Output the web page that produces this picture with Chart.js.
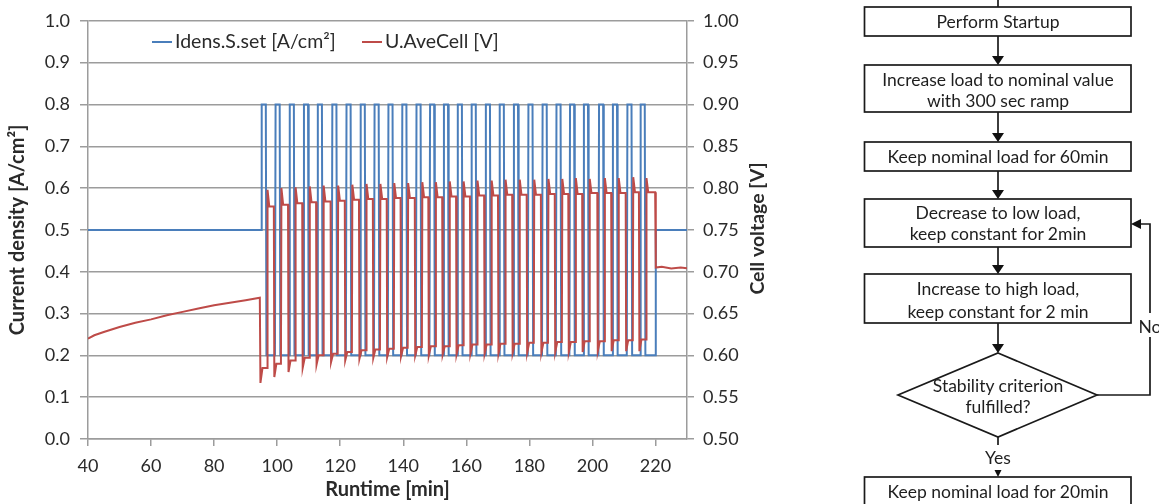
<!DOCTYPE html>
<html><head><meta charset="utf-8">
<script src="https://cdn.jsdelivr.net/npm/chart.js@4/dist/chart.umd.min.js"></script>
<style>
html,body{margin:0;padding:0;background:#fff;width:1159px;height:504px;overflow:hidden;}
#wrap{position:relative;width:1159px;height:504px;}
#c{position:absolute;left:0;top:0;}
#flow{position:absolute;left:0;top:0;font-family:Lato,"Open Sans",sans-serif;font-size:17.5px;fill:#1e1e1e;}
</style></head><body>
<div id="wrap">
<canvas id="c" width="790" height="504"></canvas>
<svg id="flow" width="1159" height="504" xmlns="http://www.w3.org/2000/svg">
  <g stroke="#1a1a1a" stroke-width="1.7" fill="#fff">
    <rect x="864.5" y="7" width="266.5" height="29"/>
    <rect x="864.5" y="65" width="266.5" height="47"/>
    <rect x="864.5" y="142" width="266.5" height="29"/>
    <rect x="864.5" y="199" width="266.5" height="48"/>
    <rect x="864.5" y="274" width="266.5" height="49"/>
    <polygon points="998,353 1097,395 998,437 898,395"/>
    <rect x="864.5" y="477" width="266.5" height="40"/>
  </g>
  <g stroke="#1a1a1a" stroke-width="1.7" fill="none">
    <line x1="998" y1="0" x2="998" y2="7"/>
    <line x1="998" y1="36" x2="998" y2="57"/>
    <line x1="998" y1="112" x2="998" y2="134"/>
    <line x1="998" y1="171" x2="998" y2="191"/>
    <line x1="998" y1="247" x2="998" y2="266"/>
    <line x1="998" y1="323" x2="998" y2="345"/>
    <line x1="998" y1="437" x2="998" y2="445"/>
    <polyline points="1097,395 1150,395 1150,337"/>
    <polyline points="1150,313 1150,224 1140,224"/>
  </g>
  <g fill="#111" stroke="none">
    <polygon points="992,56 1004,56 998,65"/>
    <polygon points="992,133 1004,133 998,142"/>
    <polygon points="992,190 1004,190 998,199"/>
    <polygon points="992,265 1004,265 998,274"/>
    <polygon points="992,344 1004,344 998,353"/>
    <polygon points="994.5,470 1001.5,470 998,477"/>
    <polygon points="1131,224 1141,219 1141,229"/>
  </g>
  <g text-anchor="middle" dominant-baseline="central">
    <text x="998" y="21.5">Perform Startup</text>
    <text x="998" y="79">Increase load to nominal value</text>
    <text x="998" y="100">with 300 sec ramp</text>
    <text x="998" y="156.5">Keep nominal load for 60min</text>
    <text x="998" y="212">Decrease to low load,</text>
    <text x="998" y="233">keep constant for 2min</text>
    <text x="998" y="288">Increase to high load,</text>
    <text x="998" y="311">keep constant for 2 min</text>
    <text x="998" y="385">Stability criterion</text>
    <text x="998" y="406">fulfilled?</text>
    <text x="998" y="457">Yes</text>
    <text x="1150" y="326">No</text>
    <text x="998" y="491">Keep nominal load for 20min</text>
  </g>
</svg>
</div>
<script>
// ---- tick labels ----
const runtimeTicks = [40, 60, 80, 100, 120, 140, 160, 180, 200, 220];
const currentTicks = [0, 0.1, 0.2, 0.3, 0.4, 0.5, 0.6, 0.7, 0.8, 0.9, 1.0];
const voltageTicks = [0.50, 0.55, 0.60, 0.65, 0.70, 0.75, 0.80, 0.85, 0.90, 0.95, 1.00];

// ---- current set-point (A/cm²) ----
const currentNominal = [0.5];
const currentHigh = [0.8];
const currentLow = [0.2];
// minutes at which each high-load pulse starts
const pulseStart = [94.9, 99.3, 103.8, 108.3, 112.7, 117.3, 121.8, 126.3, 130.7, 135.1,
                    139.5, 144.0, 148.3, 152.7, 157.1, 161.5, 166.0, 170.4, 174.9, 179.5,
                    184.0, 188.4, 192.7, 197.1, 201.9, 206.3, 210.9, 215.1];
const cycleEnd = [219.9];
const runEnd = [230];

// ---- cell voltage (V) ----
const preTime = [40, 42, 45, 50, 55, 60, 65, 70, 75, 80, 85, 90, 94.5];
const preVolt = [0.620, 0.624, 0.628, 0.634, 0.639, 0.643, 0.648, 0.652, 0.656, 0.660, 0.663, 0.666, 0.669];
const lowMin  = [0.567, 0.574, 0.580, 0.585, 0.589, 0.592, 0.594, 0.596, 0.597, 0.598,
                 0.599, 0.600, 0.600, 0.601, 0.601, 0.602, 0.602, 0.602, 0.603, 0.603,
                 0.603, 0.604, 0.604, 0.604, 0.605, 0.605, 0.605, 0.605];
const lowEnd  = [0.585, 0.590, 0.594, 0.597, 0.600, 0.602, 0.604, 0.606, 0.607, 0.608,
                 0.609, 0.610, 0.611, 0.611, 0.612, 0.613, 0.613, 0.614, 0.614, 0.615,
                 0.615, 0.616, 0.616, 0.617, 0.617, 0.618, 0.618, 0.619];
const highPeak = [0.798, 0.800, 0.801, 0.802, 0.803, 0.803, 0.804, 0.805, 0.805, 0.806,
                  0.806, 0.807, 0.807, 0.808, 0.808, 0.809, 0.809, 0.810, 0.810, 0.810,
                  0.811, 0.811, 0.812, 0.811, 0.812, 0.812, 0.813, 0.812];
const highLevel = [0.778, 0.780, 0.782, 0.783, 0.784, 0.785, 0.786, 0.787, 0.787, 0.788,
                   0.788, 0.789, 0.789, 0.790, 0.790, 0.791, 0.791, 0.792, 0.792, 0.792,
                   0.793, 0.793, 0.793, 0.794, 0.794, 0.794, 0.795, 0.795];
const postTime = [220.1, 222, 225, 228, 230];
const postVolt = [0.705, 0.706, 0.704, 0.705, 0.704];

// pulse shape timing (minutes)
const RAMP = 0.2, HOLD = 1.5, LEAD = 0.35, LAG = 0.3;

function buildCurrent() {
  const p = [{x: preTime[0], y: currentNominal[0]}, {x: pulseStart[0], y: currentNominal[0]}];
  pulseStart.forEach((r, i) => {
    const next = i + 1 < pulseStart.length ? pulseStart[i + 1] : cycleEnd[0];
    p.push({x: r + RAMP, y: currentHigh[0]});
    p.push({x: r + HOLD, y: currentHigh[0]});
    p.push({x: r + HOLD + RAMP, y: currentLow[0]});
    p.push({x: next, y: currentLow[0]});
  });
  p.push({x: cycleEnd[0] + RAMP, y: currentNominal[0]});
  p.push({x: runEnd[0], y: currentNominal[0]});
  return p;
}
function buildVoltage() {
  const p = preTime.map((t, i) => ({x: t, y: preVolt[i]}));
  pulseStart.forEach((r, i) => {
    const next = i + 1 < pulseStart.length ? pulseStart[i + 1] - LEAD : cycleEnd[0];
    p.push({x: r - LEAD + 0.15, y: lowMin[i]});
    p.push({x: r + 0.45, y: lowEnd[i]});
    p.push({x: r + HOLD + RAMP + LAG - 0.1, y: lowEnd[i]});
    p.push({x: r + HOLD + RAMP + LAG + 0.05, y: highPeak[i]});
    p.push({x: r + HOLD + RAMP + LAG + 0.6, y: highLevel[i]});
    p.push({x: next, y: highLevel[i]});
  });
  postTime.forEach((t, i) => p.push({x: t, y: postVolt[i]}));
  return p;
}

const BLUE = '#4A7EBB', RED = '#BE4B48';
const GRID = '#9c9c9c', TXT = '#2a2a2a';
const FONT = 'Lato, "Open Sans", sans-serif';

const overlay = {
  id: 'overlay',
  afterDraw(chart) {
    const ctx = chart.ctx;
    ctx.save();
    // legend
    ctx.font = '19.5px ' + FONT;
    ctx.textBaseline = 'middle';
    ctx.textAlign = 'left';
    ctx.lineWidth = 2;
    ctx.strokeStyle = BLUE;
    ctx.beginPath(); ctx.moveTo(152, 42); ctx.lineTo(172, 42); ctx.stroke();
    ctx.fillStyle = TXT;
    ctx.fillText('Idens.S.set [A/cm²]', 175, 42);
    ctx.strokeStyle = RED;
    ctx.beginPath(); ctx.moveTo(362, 42); ctx.lineTo(382, 42); ctx.stroke();
    ctx.fillText('U.AveCell [V]', 385, 42);
    // right axis title (reads bottom to top)
    ctx.translate(758, 228.5);
    ctx.rotate(-Math.PI / 2);
    ctx.textAlign = 'center';
    ctx.font = 'bold 19.5px ' + FONT;
    ctx.fillText('Cell voltage [V]', 0, 0);
    ctx.restore();
  }
};

new Chart(document.getElementById('c'), {
  type: 'line',
  data: {
    datasets: [
      {label: 'Idens.S.set [A/cm²]', data: buildCurrent(), borderColor: BLUE, borderWidth: 2,
       pointRadius: 0, tension: 0, yAxisID: 'y', fill: false, order: 2},
      {label: 'U.AveCell [V]', data: buildVoltage(), borderColor: RED, borderWidth: 2,
       pointRadius: 0, tension: 0, yAxisID: 'y1', fill: false, order: 1}
    ]
  },
  options: {
    responsive: false, animation: false, devicePixelRatio: 1,
    layout: {padding: {top: 18, left: 0, right: 0, bottom: 0}},
    plugins: {legend: {display: false}, tooltip: {enabled: false}},
    scales: {
      x: {
        type: 'linear', position: 'bottom', min: 40, max: 230,
        afterBuildTicks: s => { s.ticks = runtimeTicks.map(v => ({value: v})); },
        afterFit: s => { s.height = 65; },
        ticks: {font: {family: FONT, size: 18}, color: TXT, padding: 9, maxRotation: 0, autoSkip: false,
                callback: v => String(v)},
        grid: {drawOnChartArea: false, tickLength: 7, tickColor: GRID, lineWidth: 1.5},
        border: {display: true, color: GRID, width: 1.5},
        title: {display: true, text: 'Runtime [min]', font: {family: FONT, size: 20, weight: 'bold'},
                color: TXT, padding: {top: 0, bottom: 2}}
      },
      y: {
        type: 'linear', position: 'left', min: 0, max: 1,
        afterBuildTicks: s => { s.ticks = currentTicks.map(v => ({value: v})); },
        afterFit: s => { s.width = 88; },
        ticks: {font: {family: FONT, size: 18}, color: TXT, padding: 10, autoSkip: false,
                callback: v => v.toFixed(1)},
        grid: {drawOnChartArea: true, color: GRID, lineWidth: 1.5, tickLength: 8, tickColor: GRID},
        border: {display: true, color: GRID, width: 1.5},
        title: {display: true, text: 'Current density [A/cm²]', font: {family: FONT, size: 20, weight: 'bold'},
                color: TXT, padding: {top: 6, bottom: 0}}
      },
      y1: {
        type: 'linear', position: 'right', min: 0.5, max: 1.0,
        afterBuildTicks: s => { s.ticks = voltageTicks.map(v => ({value: v})); },
        afterFit: s => { s.width = 103; },
        ticks: {font: {family: FONT, size: 18}, color: TXT, padding: 9, autoSkip: false,
                callback: v => v.toFixed(2)},
        grid: {drawOnChartArea: false, tickLength: 7, tickColor: GRID, lineWidth: 1.5},
        border: {display: true, color: GRID, width: 1.5},
        title: {display: false}
      }
    }
  },
  plugins: [overlay]
});
</script>
</body></html>
